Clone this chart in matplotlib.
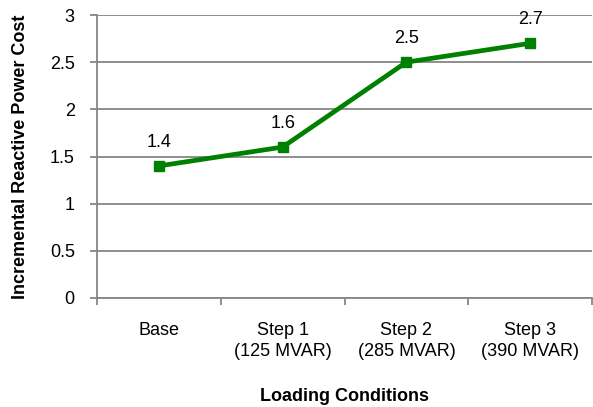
import matplotlib
matplotlib.use("Agg")
import matplotlib.pyplot as plt
from matplotlib.ticker import FixedLocator

categories = ["Base", "Step 1\n(125 MVAR)", "Step 2\n(285 MVAR)", "Step 3\n(390 MVAR)"]
values = [1.4, 1.6, 2.5, 2.7]
y_ticks = [0, 0.5, 1, 1.5, 2, 2.5, 3]

plt.rcParams['font.family'] = ['Liberation Sans', 'DejaVu Sans']
FS = 13

fig = plt.figure(figsize=(5.93, 4.07), dpi=100)
ax = fig.add_axes([97/593, 1-298/407, 495/593, (298-15)/407])

x = list(range(len(categories)))
ax.plot(x, values, color='#008000', lw=3.4, marker='s', markersize=7, zorder=3, clip_on=False)
for xi, v in zip(x, values):
    ax.annotate(f"{v:g}", (xi, v), xytext=(0, 11), textcoords='offset points',
                ha='center', va='bottom', fontsize=FS)

ax.set_xlim(-0.5, len(categories) - 0.5)
ax.set_ylim(0, 3)
ax.set_yticks(y_ticks)
ax.set_yticklabels([f"{t:g}" for t in y_ticks], fontsize=FS)
ax.set_xticks(x)
ax.set_xticklabels(categories, fontsize=FS, linespacing=1.35)
ax.xaxis.set_minor_locator(FixedLocator([i + 0.5 for i in range(-1, len(categories))]))
ax.tick_params(axis='x', which='major', length=0, pad=17)
ax.tick_params(axis='x', which='minor', length=5, color='#868686', width=1.3)
ax.tick_params(axis='y', which='major', length=5, color='#868686', width=1.3, pad=11)

ax.grid(axis='y', color='#868686', lw=1.3)
ax.set_axisbelow(True)
for s in ['top', 'right']:
    ax.spines[s].set_visible(False)
for s in ['left', 'bottom']:
    ax.spines[s].set_color('#868686')
    ax.spines[s].set_linewidth(1.3)

ax.set_ylabel("Incremental Reactive Power Cost", fontsize=FS, fontweight='bold', labelpad=15)
ax.set_xlabel("Loading Conditions", fontsize=FS, fontweight='bold', labelpad=20)

fig.savefig("out.png", dpi=100)
